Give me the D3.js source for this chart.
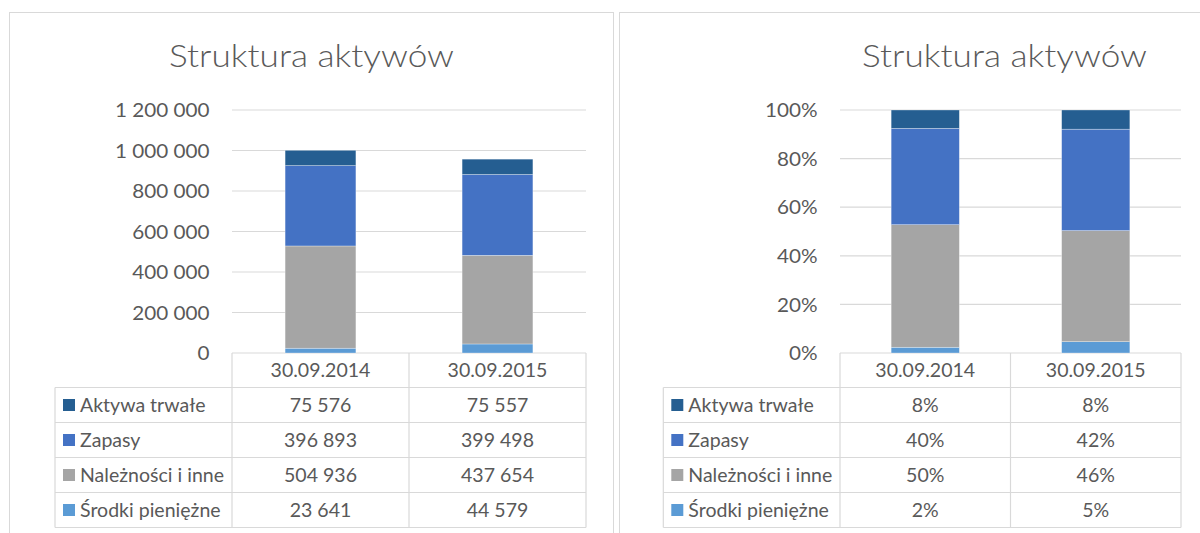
<!DOCTYPE html>
<html>
<meta charset="utf-8">
<head>
<script src="https://d3js.org/d3.v7.min.js"></script>
<title>Struktura aktywów</title>
<style>
html, body {
	margin: 0;
	padding: 0;
	background: #fff;
}
svg {
	display: block;
	font-family: 'Lato', 'Open Sans', sans-serif;
}
</style>
</head>
<body>
<svg width="1200" height="533"></svg>
<script>
// data
var categories = ["30.09.2014", "30.09.2015"];
var seriesNames = ["Aktywa trwałe", "Zapasy", "Należności i inne", "Środki pieniężne"]; // table order, top -> bottom
var seriesColors = ["#255E91", "#4472C4", "#A5A5A5", "#5B9BD5"];
var aktywaTrwale = [75576, 75557];
var zapasy = [396893, 399498];
var naleznosci = [504936, 437654];
var srodki = [23641, 44579];
var valueTicks = [0, 200000, 400000, 600000, 800000, 1000000, 1200000];
var shareTicks = [0, 0.2, 0.4, 0.6, 0.8, 1];

var seriesValues = [aktywaTrwale, zapasy, naleznosci, srodki];

var textColor = "#595959";
var lineColor = "#D9D9D9";

var pl = d3.formatLocale({decimal: ",", thousands: " ", grouping: [3], currency: ["", " zł"], percent: "%"});
var fmtValue = pl.format(",d");
var fmtShare = pl.format(".0%");

var svg = d3.select("svg");

// rows for d3.stack
var rows = categories.map(function(c, i) {
	var r = {cat: c};
	seriesNames.forEach(function(s, j) { r[s] = seriesValues[j][i]; });
	return r;
});
var stackKeys = seriesNames.slice().reverse(); // bottom -> top

// font: size picked from glyph height, width squeezed to the original's room
function measure(text, size, weight) {
	var t = svg.append("text")
		.style("font-size", size + "px")
		.style("font-weight", weight || 400)
		.text(text);
	var w = t.node().getComputedTextLength();
	t.remove();
	return w;
}
var fonts = {
	title: {size: 31.5, weight: 300},
	tick: {size: 20, weight: 400},
	table: {size: 19.4, weight: 400}
};
fonts.title.k = 285 / measure("Struktura aktywów", fonts.title.size, 300);
fonts.tick.k = 94.5 / measure("1 200 000", fonts.tick.size);
fonts.table.k = 144 / measure("Należności i inne", fonts.table.size);

function styled(sel, role) {
	var f = fonts[role];
	sel.style("font-size", f.size + "px")
		.style("font-weight", f.weight)
		.attr("fill", textColor)
		.each(function() {
			var w = this.getComputedTextLength();
			d3.select(this)
				.attr("textLength", w * f.k)
				.attr("lengthAdjust", "spacingAndGlyphs");
		});
}

// panel frames
svg.append("rect")
	.attr("x", 9.5).attr("y", 12.5)
	.attr("width", 604).attr("height", 600)
	.attr("fill", "none").attr("stroke", lineColor);
svg.append("rect")
	.attr("x", 619.5).attr("y", 12.5)
	.attr("width", 700).attr("height", 600)
	.attr("fill", "none").attr("stroke", lineColor);

var yTop = 110, yZero = 353, headBottom = 387.5, rowH = 35;

function drawPanel(cfg) {
	var g = svg.append("g");
	var series = d3.stack().keys(stackKeys).offset(cfg.offset)(rows);

	var y = d3.scaleLinear().domain(cfg.domain).range([yZero, yTop]);
	var xBar = d3.scaleBand().domain(categories)
		.range([cfg.x0, cfg.x1]).paddingInner(0.6).paddingOuter(0.3);
	var xCell = d3.scaleBand().domain(categories).range([cfg.x0, cfg.x1]);

	// title
	g.append("text")
		.attr("x", cfg.titleX).attr("y", 66.7)
		.attr("text-anchor", "middle")
		.text("Struktura aktywów")
		.call(styled, "title");

	// gridlines + labels
	g.append("g").selectAll("line")
		.data(cfg.ticks)
		.enter().append("line")
			.attr("x1", cfg.x0).attr("x2", cfg.x1)
			.attr("y1", function(d) { return y(d); })
			.attr("y2", function(d) { return y(d); })
			.attr("stroke", lineColor).attr("stroke-width", 1.2);
	g.append("g").selectAll("text")
		.data(cfg.ticks)
		.enter().append("text")
			.attr("x", cfg.labelX)
			.attr("y", function(d) { return y(d); })
			.attr("dy", "0.36em")
			.attr("text-anchor", "end")
			.text(cfg.tickFormat)
			.call(styled, "tick");

	// bars
	g.append("g").selectAll("g")
		.data(series)
		.enter().append("g")
			.attr("fill", function(s) { return seriesColors[seriesNames.indexOf(s.key)]; })
		.selectAll("rect")
		.data(function(s) { return s; })
		.enter().append("rect")
			.attr("x", function(d) { return xBar(d.data.cat); })
			.attr("width", xBar.bandwidth())
			.attr("y", function(d) { return y(d[1]); })
			.attr("height", function(d) { return y(d[0]) - y(d[1]); })
			.attr("stroke", "#fff").attr("stroke-width", 0.6).attr("stroke-opacity", 0.5);

	// data table
	var tbl = g.append("g");
	var rowY = d3.scaleBand().domain(seriesNames).range([headBottom, headBottom + rowH * seriesNames.length]);
	var tableBottom = headBottom + rowH * seriesNames.length;
	var vx = [cfg.x0].concat(categories.map(function(c) { return xCell(c) + xCell.bandwidth(); }));
	tbl.selectAll("line.v")
		.data(vx)
		.enter().append("line")
			.attr("x1", function(d) { return d; }).attr("x2", function(d) { return d; })
			.attr("y1", yZero).attr("y2", tableBottom)
			.attr("stroke", lineColor).attr("stroke-width", 1.2);
	tbl.append("line")
		.attr("x1", cfg.legendX).attr("x2", cfg.legendX)
		.attr("y1", headBottom).attr("y2", tableBottom)
		.attr("stroke", lineColor).attr("stroke-width", 1.2);
	tbl.selectAll("line.h")
		.data(seriesNames.map(function(s) { return rowY(s); }).concat([tableBottom]))
		.enter().append("line")
			.attr("x1", cfg.legendX).attr("x2", cfg.x1)
			.attr("y1", function(d) { return d; }).attr("y2", function(d) { return d; })
			.attr("stroke", lineColor).attr("stroke-width", 1.2);

	// header
	tbl.selectAll("text.head")
		.data(categories)
		.enter().append("text")
			.attr("x", function(c) { return xCell(c) + xCell.bandwidth() / 2; })
			.attr("y", (yZero + headBottom) / 2)
			.attr("dy", "0.36em")
			.attr("text-anchor", "middle")
			.text(function(c) { return c; })
			.call(styled, "table");

	// legend keys + names
	var lr = tbl.selectAll("g.row")
		.data(seriesNames)
		.enter().append("g")
			.attr("transform", function(s) { return "translate(0," + (rowY(s) + rowH / 2) + ")"; });
	lr.append("rect")
		.attr("x", cfg.legendX + 8).attr("y", -6)
		.attr("width", 12).attr("height", 12)
		.attr("fill", function(s, i) { return seriesColors[i]; });
	lr.append("text")
		.attr("x", cfg.legendX + 25)
		.attr("dy", "0.36em")
		.text(function(s) { return s; })
		.call(styled, "table");

	// cell values, straight from the stack
	lr.selectAll("text.val")
		.data(function(s) {
			var sr = series.find(function(x) { return x.key === s; });
			return sr.map(function(d) { return {cat: d.data.cat, v: d[1] - d[0]}; });
		})
		.enter().append("text")
			.attr("x", function(d) { return xCell(d.cat) + xCell.bandwidth() / 2; })
			.attr("dy", "0.36em")
			.attr("text-anchor", "middle")
			.text(function(d) { return cfg.valueFormat(d.v); })
			.call(styled, "table");
}

drawPanel({
	offset: d3.stackOffsetNone,
	domain: [0, 1200000],
	ticks: valueTicks,
	tickFormat: fmtValue,
	valueFormat: fmtValue,
	x0: 232, x1: 586,
	labelX: 209.5,
	legendX: 55,
	titleX: 311.5
});

drawPanel({
	offset: d3.stackOffsetExpand,
	domain: [0, 1],
	ticks: shareTicks,
	tickFormat: fmtShare,
	valueFormat: fmtShare,
	x0: 840, x1: 1181,
	labelX: 817.5,
	legendX: 663.3,
	titleX: 1004.5
});
</script>
</body>
</html>
